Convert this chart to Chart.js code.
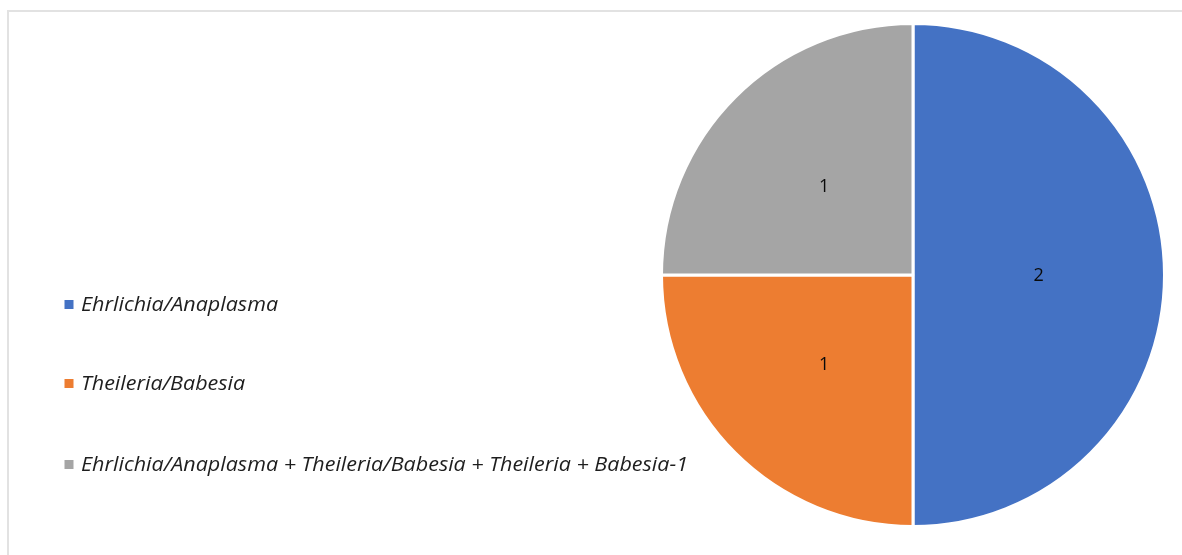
<!DOCTYPE html>
<html>
<head>
<meta charset="utf-8">
<script src="https://cdn.jsdelivr.net/npm/chart.js@4.4.1/dist/chart.umd.min.js"></script>
<style>
html,body{margin:0;padding:0;background:#fff;}
#wrap{position:relative;width:1182px;height:555px;}
</style>
</head>
<body>
<div id="wrap"><canvas id="c" width="1182" height="555"></canvas></div>
<script>
const categories = [
  "Ehrlichia/Anaplasma",
  "Theileria/Babesia",
  "Ehrlichia/Anaplasma + Theileria/Babesia + Theileria + Babesia-1"
];
const values = [2, 1, 1];
const colors = ["#4472C4", "#ED7D31", "#A5A5A5"];

const FONT_FAMILY = "'Open Sans', 'Noto Sans', sans-serif";

const framePlugin = {
  id: 'frame',
  beforeDraw(chart) {
    const ctx = chart.ctx;
    ctx.save();
    ctx.fillStyle = '#ffffff';
    ctx.fillRect(0, 0, chart.width, chart.height);
    ctx.strokeStyle = '#e2e2e2';
    ctx.lineWidth = 2;
    ctx.beginPath();
    ctx.moveTo(8, chart.height);
    ctx.lineTo(8, 11);
    ctx.lineTo(chart.width, 11);
    ctx.stroke();
    ctx.restore();
  }
};

const sideLegend = {
  id: 'sideLegend',
  afterDraw(chart) {
    const ctx = chart.ctx;
    const ys = [305, 384, 465];
    ctx.save();
    ctx.font = "italic 20px " + FONT_FAMILY;
    ctx.textBaseline = 'middle';
    const targetW = 607;
    const longest = ctx.measureText(categories[2]).width;
    const sx = targetW / longest;
    categories.forEach((lab, i) => {
      ctx.fillStyle = colors[i];
      ctx.fillRect(64.5, ys[i] - 5, 9, 9);
      ctx.fillStyle = '#1e1e1e';
      ctx.save();
      ctx.translate(81, ys[i]);
      ctx.scale(sx, 1);
      ctx.fillText(lab, 0, 0);
      ctx.restore();
    });
    ctx.restore();
  }
};

const valueLabels = {
  id: 'valueLabels',
  afterDatasetsDraw(chart) {
    const ctx = chart.ctx;
    const meta = chart.getDatasetMeta(0);
    ctx.save();
    ctx.font = "18px " + FONT_FAMILY;
    ctx.fillStyle = '#0a0a0a';
    ctx.textAlign = 'center';
    ctx.textBaseline = 'middle';
    meta.data.forEach((arc, i) => {
      const p = arc.getCenterPoint();
      ctx.fillText(String(chart.data.datasets[0].data[i]), p.x, p.y + 1);
    });
    ctx.restore();
  }
};

new Chart(document.getElementById('c'), {
  type: 'pie',
  data: {
    labels: categories,
    datasets: [{
      data: values,
      backgroundColor: colors,
      borderColor: '#ffffff',
      borderWidth: 3,
      hoverOffset: 0
    }]
  },
  options: {
    responsive: false,
    animation: false,
    layout: { padding: { left: 660, right: 16, top: 22, bottom: 27 } },
    plugins: {
      legend: { display: false },
      tooltip: { enabled: false }
    }
  },
  plugins: [framePlugin, sideLegend, valueLabels]
});
</script>
</body>
</html>
